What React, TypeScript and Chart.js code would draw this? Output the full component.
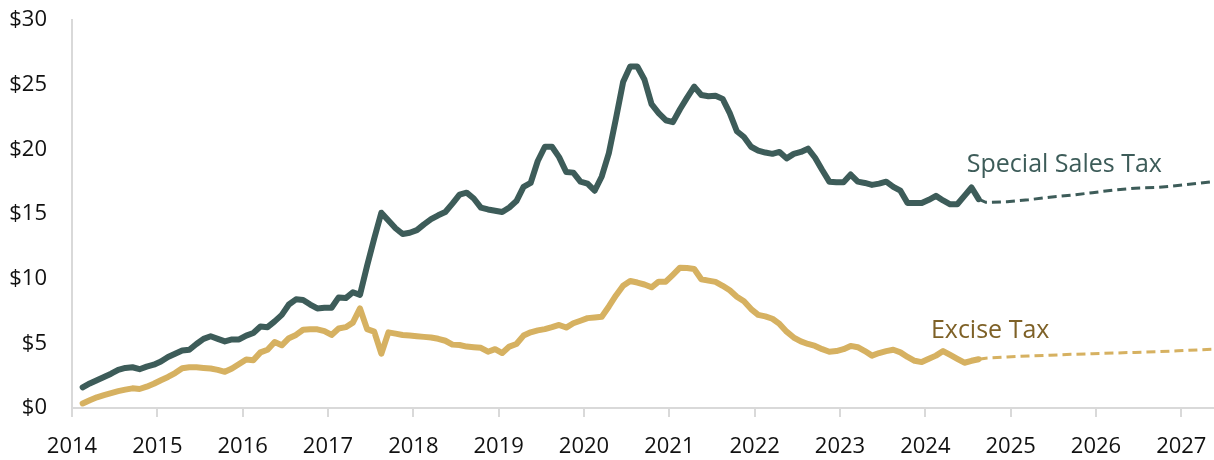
import React, { useEffect, useRef } from "react";
import { Chart, registerables } from "chart.js";

Chart.register(...registerables);

// Monthly history: Feb 2014 .. Aug 2024 (values in $)
const startYear = 2014;
const startMonthIndex = 1; // 0 = Jan 2014

const specialSalesTax: number[] = [
  1.6, 1.9, 2.15, 2.4, 2.65, 2.95, 3.1, 3.15, 3.0, 3.2, 3.35,
  3.6, 3.95, 4.2, 4.45, 4.5, 4.95, 5.35, 5.55, 5.35, 5.15, 5.3, 5.3,
  5.6, 5.8, 6.3, 6.25, 6.7, 7.2, 8.0, 8.4, 8.35, 8.0, 7.7, 7.75,
  7.75, 8.55, 8.5, 8.95, 8.75, 11.0, 13.1, 15.1, 14.5, 13.9, 13.45, 13.55,
  13.75, 14.2, 14.6, 14.9, 15.15, 15.8, 16.5, 16.65, 16.2, 15.5, 15.35, 15.25,
  15.15, 15.5, 16.0, 17.1, 17.4, 19.1, 20.2, 20.2, 19.4, 18.25, 18.2, 17.5,
  17.35, 16.8, 17.9, 19.7, 22.4, 25.2, 26.4, 26.4, 25.4, 23.5, 22.8, 22.25,
  22.1, 23.1, 24.0, 24.85, 24.2, 24.1, 24.15, 23.9, 22.8, 21.4, 20.95, 20.2,
  19.9, 19.75, 19.65, 19.8, 19.3, 19.65, 19.8, 20.05, 19.35, 18.4, 17.5, 17.45,
  17.45, 18.05, 17.5, 17.4, 17.25, 17.35, 17.5, 17.1, 16.8, 15.85, 15.85, 15.85,
  16.1, 16.4, 16.05, 15.75, 15.75, 16.4, 17.05, 16.15,
];

const exciseTax: number[] = [
  0.35, 0.6, 0.83, 1.0, 1.15, 1.3, 1.42, 1.52, 1.47, 1.65, 1.88,
  2.15, 2.4, 2.7, 3.07, 3.15, 3.15, 3.1, 3.05, 2.95, 2.8, 3.05, 3.4,
  3.75, 3.7, 4.3, 4.5, 5.1, 4.85, 5.4, 5.65, 6.05, 6.08, 6.08, 5.95,
  5.65, 6.15, 6.25, 6.6, 7.7, 6.1, 5.9, 4.2, 5.85, 5.75, 5.65, 5.6,
  5.55, 5.5, 5.45, 5.35, 5.2, 4.9, 4.87, 4.75, 4.7, 4.65, 4.35, 4.55,
  4.25, 4.75, 4.95, 5.6, 5.85, 6.0, 6.1, 6.25, 6.42, 6.22, 6.55, 6.75,
  6.95, 7.0, 7.05, 7.85, 8.7, 9.45, 9.82, 9.7, 9.55, 9.33, 9.77, 9.77,
  10.3, 10.85, 10.82, 10.75, 9.95, 9.85, 9.75, 9.45, 9.1, 8.6, 8.25, 7.65,
  7.2, 7.08, 6.9, 6.5, 5.9, 5.45, 5.15, 4.95, 4.8, 4.55, 4.35, 4.4,
  4.55, 4.8, 4.7, 4.4, 4.05, 4.25, 4.4, 4.5, 4.3, 3.95, 3.65, 3.55,
  3.8, 4.05, 4.4, 4.1, 3.8, 3.5, 3.65, 3.77,
];

// Forecast (dashed): month index since Jan 2014
const forecastMonths: number[] = [127, 128, 131, 134, 137, 140, 143, 146, 149, 152, 155, 158, 160];
const specialForecast: number[] = [16.15, 15.9, 15.95, 16.1, 16.3, 16.45, 16.65, 16.85, 17.0, 17.05, 17.2, 17.38, 17.5];
const exciseForecast: number[] = [3.77, 3.85, 3.95, 4.02, 4.08, 4.15, 4.2, 4.25, 4.3, 4.35, 4.42, 4.5, 4.55];

const yearTicks: number[] = [2014, 2015, 2016, 2017, 2018, 2019, 2020, 2021, 2022, 2023, 2024, 2025, 2026, 2027];
const yTicks: number[] = [0, 5, 10, 15, 20, 25, 30];

const DARK = "#3d5c59";
const GOLD = "#d6b161";
const EXCISE_TEXT = "#7e6127";
const AXIS = "#d9d9d9";
const FONT = "'Open Sans', 'Noto Sans', sans-serif";

const monthToX = (m: number) => startYear + (m + 0.5) / 12;

const labels = [
  { text: "Special Sales Tax", x: 2025.63, y: 18.25, color: DARK },
  { text: "Excise Tax", x: 2024.76, y: 5.41, color: EXCISE_TEXT },
];

const labelPlugin = {
  id: "seriesLabels",
  afterDatasetsDraw(chart: any) {
    const { ctx, scales } = chart;
    ctx.save();
    ctx.font = `25px ${FONT}`;
    ctx.textAlign = "center";
    ctx.textBaseline = "alphabetic";
    for (const l of labels) {
      ctx.fillStyle = l.color;
      ctx.fillText(l.text, scales.x.getPixelForValue(l.x), scales.y.getPixelForValue(l.y));
    }
    ctx.restore();
  },
};

export default function App() {
  const ref = useRef<HTMLCanvasElement | null>(null);

  useEffect(() => {
    if (!ref.current) return;
    const hist = (vals: number[]) => vals.map((v, i) => ({ x: monthToX(startMonthIndex + i), y: v }));
    const fc = (vals: number[]) => vals.map((v, i) => ({ x: monthToX(forecastMonths[i]), y: v }));

    const chart = new Chart(ref.current, {
      type: "line",
      data: {
        datasets: [
          {
            label: "Special Sales Tax",
            data: hist(specialSalesTax),
            borderColor: DARK,
            borderWidth: 6,
            pointRadius: 0,
            tension: 0,
            borderJoinStyle: "round",
            borderCapStyle: "round",
          },
          {
            label: "Excise Tax",
            data: hist(exciseTax),
            borderColor: GOLD,
            borderWidth: 6,
            pointRadius: 0,
            tension: 0,
            borderJoinStyle: "round",
            borderCapStyle: "round",
          },
          {
            label: "Special Sales Tax forecast",
            data: fc(specialForecast),
            borderColor: DARK,
            borderWidth: 3,
            borderDash: [9, 5],
            pointRadius: 0,
            tension: 0,
          },
          {
            label: "Excise Tax forecast",
            data: fc(exciseForecast),
            borderColor: GOLD,
            borderWidth: 3,
            borderDash: [9, 5],
            pointRadius: 0,
            tension: 0,
          },
        ],
      },
      options: {
        animation: false,
        responsive: false,
        devicePixelRatio: 1,
        layout: { padding: { top: 20, right: 0, left: 0, bottom: 0 } },
        plugins: { legend: { display: false }, tooltip: { enabled: false } },
        scales: {
          x: {
            type: "linear",
            min: 2014,
            max: 2014 + 1142 / 85.33,
            afterBuildTicks: (scale: any) => {
              scale.ticks = yearTicks.map((v) => ({ value: v }));
            },
            afterFit: (scale: any) => {
              scale.height = 52;
              scale.paddingLeft = 0;
              scale.paddingRight = 0;
              scale.paddingTop = 0;
              scale.paddingBottom = 0;
            },
            grid: {
              drawOnChartArea: false,
              drawTicks: true,
              tickLength: 9,
              color: AXIS,
              lineWidth: 2,
            },
            border: { display: true, color: AXIS, width: 2 },
            ticks: {
              autoSkip: false,
              maxRotation: 0,
              padding: 17,
              color: "#111",
              font: { family: FONT, size: 22 },
              callback: (v: any) => String(v),
            },
          },
          y: {
            min: 0,
            max: 30,
            afterBuildTicks: (scale: any) => {
              scale.ticks = yTicks.map((v) => ({ value: v }));
            },
            afterFit: (scale: any) => {
              scale.width = 72;
              scale.paddingLeft = 0;
              scale.paddingRight = 0;
              scale.paddingTop = 0;
              scale.paddingBottom = 0;
            },
            grid: { display: false, drawTicks: false },
            border: { display: true, color: AXIS, width: 2 },
            ticks: {
              padding: 25,
              color: "#111",
              font: { family: FONT, size: 22 },
              callback: (v: any) => "$" + v,
            },
          },
        },
      },
      plugins: [labelPlugin],
    });
    return () => chart.destroy();
  }, []);

  return (
    <div style={{ position: "absolute", left: 0, top: 0, width: 1214, height: 460 }}>
      <canvas ref={ref} width={1214} height={460} />
    </div>
  );
}
